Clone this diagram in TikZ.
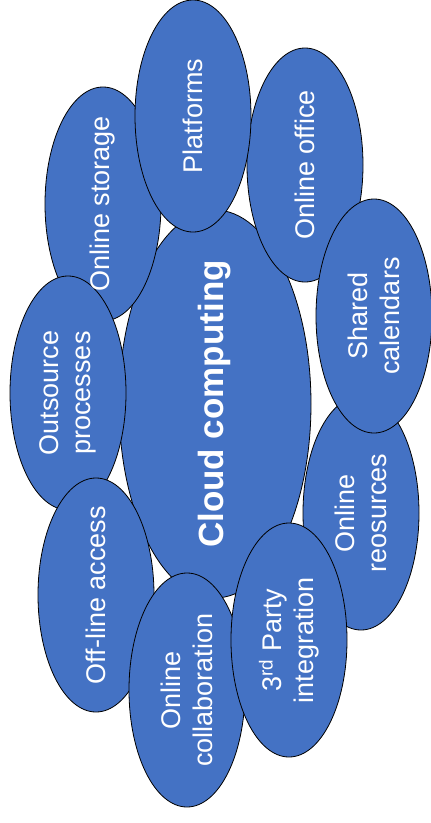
\documentclass[tikz,border=0pt]{standalone}
\usepackage{fontspec}
\setmainfont{Liberation Sans}
\usetikzlibrary{shapes.geometric}
\definecolor{bblue}{HTML}{4472C4}
\begin{document}
\begin{tikzpicture}[x=1pt,y=-1pt,
 bub/.style={ellipse, draw=black, line width=0.8pt, fill=bblue, inner sep=0pt, rotate=90, minimum width=234pt, minimum height=116pt},
 txt/.style={text=white, rotate=90, align=center, inner sep=0pt, font=\fontsize{27}{32}\selectfont},
 big/.style={text=white, rotate=90, inner sep=0pt, font=\bfseries\fontsize{35}{40}\selectfont}]
\useasboundingbox (0,0) rectangle (431,823);
\node[bub, minimum width=388pt, minimum height=192pt] (cc) at (215,404) {};
\node[bub] (reos) at (361,513) {};
\node[bub] (office) at (305,165) {};
\node[bub] (cal) at (374,316) {};
\node[bub] (stor) at (103,204) {};
\node[bub, minimum width=232pt] (plat) at (193,116) {};
\node[bub] (outs) at (68,393) {};
\node[bub] (offl) at (96,595) {};
\node[bub] (collab) at (187,690) {};
\node[bub] (third) at (289,640) {};
\node[big] (tcc) at (cc) {Cloud computing};
\node[txt] (treos) at (reos) {Online\\reosurces};
\node[txt] (toffice) at (office) {Online office};
\node[txt] (tcal) at (cal) {Shared\\calendars};
\node[txt] (tstor) at (stor) {Online storage};
\node[txt] (tplat) at (plat) {Platforms};
\node[txt] (touts) at (outs) {Outsource\\processes};
\node[txt] (toffl) at (offl) {Off-line access};
\node[txt] (tcollab) at (collab) {Online\\collaboration};
\node[txt] (tthird) at (third) {3\textsuperscript{rd} Party\\integration};
\end{tikzpicture}
\end{document}
